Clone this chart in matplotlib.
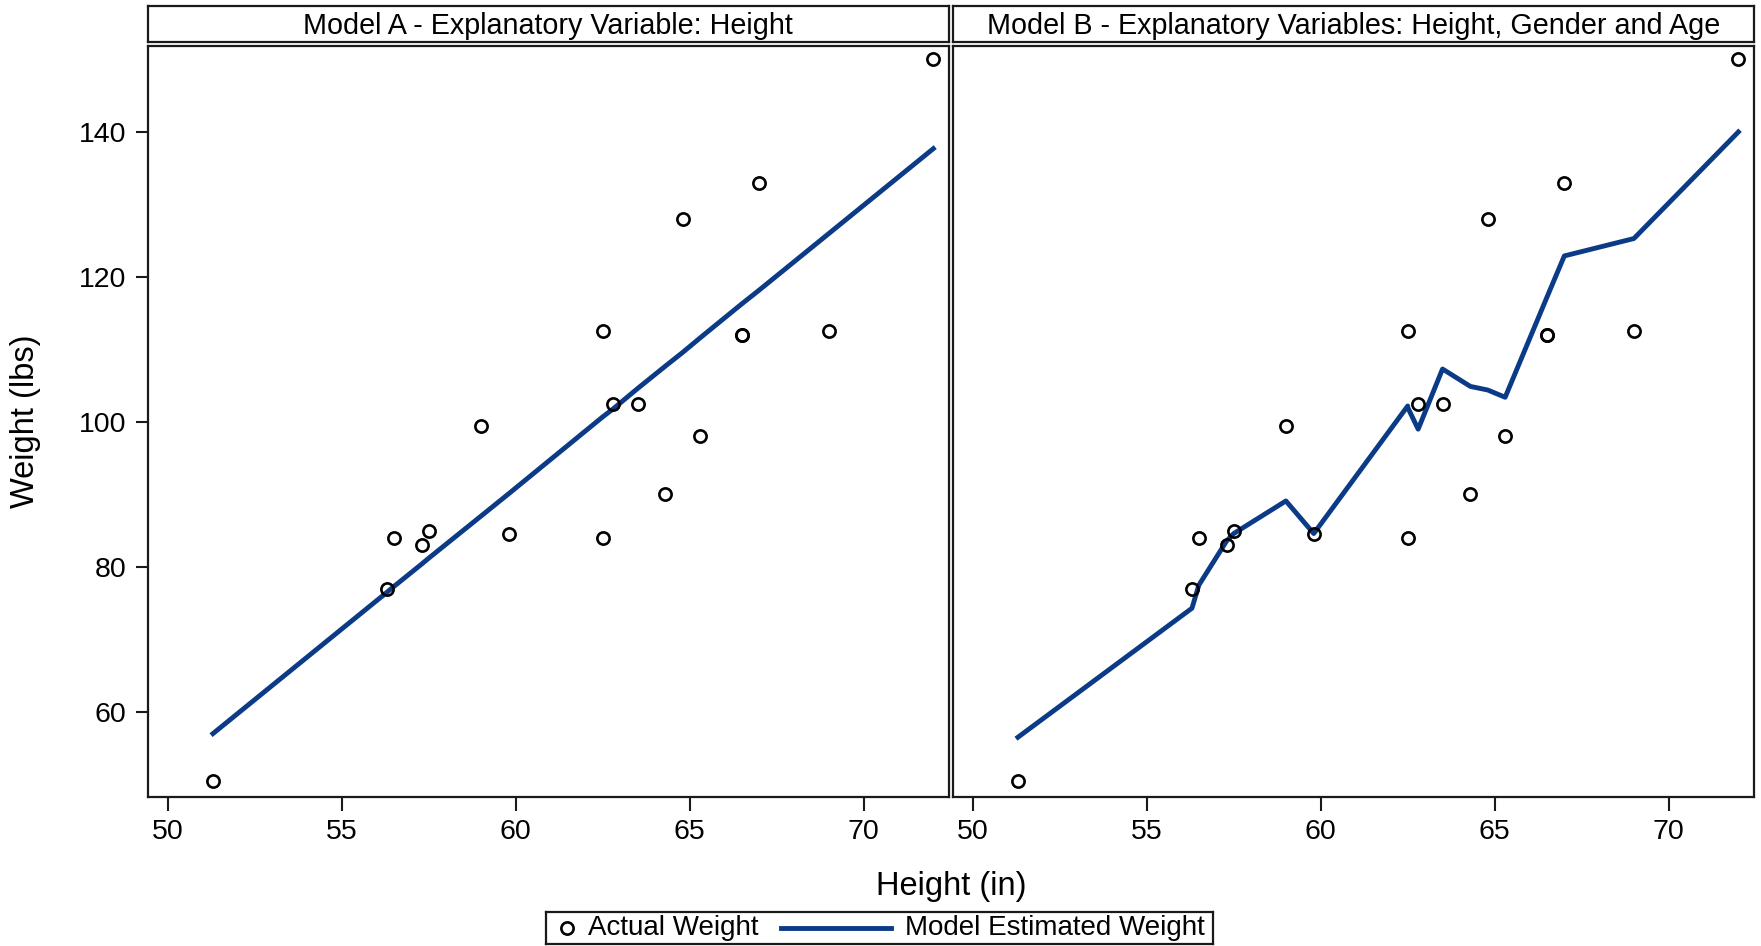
import numpy as np
import matplotlib
matplotlib.use('Agg')
import matplotlib.pyplot as plt

plt.rcParams['font.family'] = ['Liberation Sans', 'DejaVu Sans']

# sashelp.class style data, sorted by height
height = [51.3, 56.3, 56.5, 57.3, 57.5, 59.0, 59.8, 62.5, 62.5, 62.8,
          63.5, 64.3, 64.8, 65.3, 66.5, 66.5, 67.0, 69.0, 72.0]
weight = [50.5, 77.0, 84.0, 83.0, 85.0, 99.5, 84.5, 112.5, 84.0, 102.5,
          102.5, 90.0, 128.0, 98.0, 112.0, 112.0, 133.0, 112.5, 150.0]

# predicted weight
pred_a = [57.0, 76.5, 77.3, 80.4, 81.2, 87.0, 90.1, 100.7, 100.7, 101.8,
          104.6, 107.7, 109.6, 111.6, 116.3, 116.3, 118.2, 126.0, 137.7]
pred_b = [56.5, 74.3, 77.5, 83.6, 84.6, 89.1, 84.6, 102.2, 102.0, 99.0,
          107.3, 104.9, 104.4, 103.4, 117.2, 117.2, 122.9, 125.3, 140.0]

titles = ['Model A - Explanatory Variable: Height',
          'Model B - Explanatory Variables: Height, Gender and Age']
xticks = [50, 55, 60, 65, 70]
yticks = [60, 80, 100, 120, 140]

W, H = 1761, 946
line_color = '#0b3b86'
edge = '#1a1a1a'
fs_tick = 20.5
fs_head = 20.7
fs_leg = 20
fs_lab = 23.5

fig = plt.figure(figsize=(W / 100, H / 100), dpi=100)

panels = [(147.5, 949.0), (952.5, 1754.0)]
top_px, bot_px = 45.7, 796.7
head_top, head_bot = 6.0, 41.7

for k, (x0, x1) in enumerate(panels):
    ax = fig.add_axes([x0 / W, 1 - bot_px / H, (x1 - x0) / W, (bot_px - top_px) / H])
    preds = pred_a if k == 0 else pred_b
    ax.plot(height, preds, '-', color=line_color, lw=3.5, zorder=2)
    ax.plot(height, weight, 'o', mfc='none', mec='black', ms=8.8, mew=1.9, zorder=3)
    ax.set_xlim(49.42, 72.45)
    ax.set_ylim(48.3, 151.9)
    ax.set_xticks(xticks)
    ax.tick_params(axis='x', direction='out', length=10, width=1.5, pad=6,
                   labelsize=fs_tick, color=edge)
    if k == 0:
        ax.set_yticks(yticks)
        ax.tick_params(axis='y', direction='out', length=9, width=1.5, pad=6,
                       labelsize=fs_tick, color=edge)
    else:
        ax.set_yticks([])
    for s in ax.spines.values():
        s.set_linewidth(1.6)
        s.set_color(edge)

    hax = fig.add_axes([x0 / W, 1 - head_bot / H, (x1 - x0) / W, (head_bot - head_top) / H])
    hax.set_xticks([])
    hax.set_yticks([])
    for s in hax.spines.values():
        s.set_linewidth(1.6)
        s.set_color(edge)
    hax.text(0.5, 0.45, titles[k], ha='center', va='center', fontsize=fs_head,
             transform=hax.transAxes)

fig.text(0.0142, 1 - 421 / H, 'Weight (lbs)', rotation=90, ha='center', va='center',
         fontsize=fs_lab)
fig.text(951 / W, 1 - 886 / H, 'Height (in)', ha='center', va='center', fontsize=fs_lab)

# legend box
lx0, lx1, ly0, ly1 = 546, 1213, 911.5, 943.5
lax = fig.add_axes([lx0 / W, 1 - ly1 / H, (lx1 - lx0) / W, (ly1 - ly0) / H])
lax.set_xlim(lx0, lx1)
lax.set_ylim(0, ly1 - ly0)
lax.set_xticks([])
lax.set_yticks([])
for s in lax.spines.values():
    s.set_linewidth(1.6)
    s.set_color(edge)
yc = (ly1 - ly0) / 2
lax.plot([567], [yc], 'o', mfc='none', mec='black', ms=8.8, mew=1.9)
lax.text(588, yc, 'Actual Weight', ha='left', va='center', fontsize=fs_leg)
lax.plot([781, 891], [yc, yc], '-', color=line_color, lw=3.5)
lax.text(905, yc, 'Model Estimated Weight', ha='left', va='center', fontsize=fs_leg)

fig.savefig('out.png', dpi=100)
